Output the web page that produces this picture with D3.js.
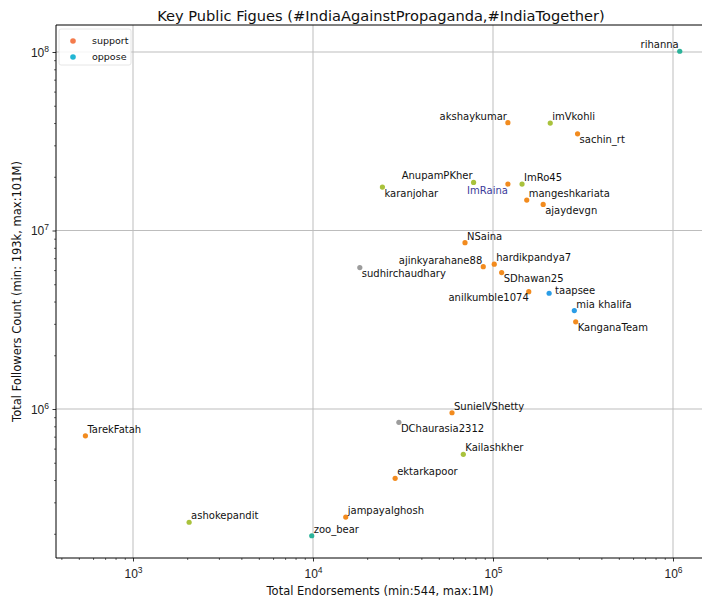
<!DOCTYPE html>
<html>
<head>
<meta charset="utf-8">
<script src="https://cdn.jsdelivr.net/npm/d3@7"></script>
<style>
  html, body { margin: 0; padding: 0; background: #fff; }
  svg { display: block; font-family: "DejaVu Sans", sans-serif; }
</style>
</head>
<body>
<svg id="chart" width="702" height="600"></svg>
<script>
// ---- data ----
const names = ["rihanna","akshaykumar","imVkohli","sachin_rt","AnupamPKher","karanjohar","ImRaina","ImRo45",
  "mangeshkariata","ajaydevgn","NSaina","ajinkyarahane88","hardikpandya7","SDhawan25","sudhirchaudhary",
  "anilkumble1074","taapsee","mia khalifa","KanganaTeam","SunielVShetty","DChaurasia2312","TarekFatah",
  "Kailashkher","ektarkapoor","jampayalghosh","ashokepandit","zoo_bear"];
const endorsements = [1090000,121000,208000,295000,78000,24300,121000,145000,
  154000,190000,69900,88300,101600,111700,18200,
  158000,205000,283000,288000,59200,30000,544,
  68400,28600,15200,2050,9840];
const followers = [101000000,40200000,40000000,34800000,18600000,17500000,18200000,18200000,
  14800000,14000000,8550000,6270000,6480000,5810000,6200000,
  4540000,4450000,3560000,3080000,953000,842000,708000,
  557000,409000,248000,232000,195000];
const pointKind = ["teal","orange","green","orange","green","green","orange","green",
  "orange","orange","orange","orange","orange","orange","gray",
  "orange","blue","blue","orange","orange","gray","orange",
  "green","orange","orange","green","teal"];
const labelSide = ["ul","ul","ur","lr","ul","lr","ll","ur",
  "ur","lr","ur","ul","ur","lr","lr",
  "ll","r","ur","lr","ur","lr","ur",
  "ur","ur","ur","ur","ur"];
const legendLabels = ["support","oppose"];
const xTickExps = [3,4,5,6];
const yTickExps = [6,7,8];
const titleText = "Key Public Figues (#IndiaAgainstPropaganda,#IndiaTogether)";
const xLabelText = "Total Endorsements (min:544, max:1M)";
const yLabelText = "Total Followers Count (min: 193k, max:101M)";

// ---- styles ----
const kindColor = {orange:"#f28b1e", green:"#a9c23c", blue:"#2b9de6", gray:"#9c9c9c", teal:"#2bb39a"};
const legendColor = {support:"#f47b4c", oppose:"#22b6d4"};

const svg = d3.select("#chart");
const L = 56, R = 703, T = 25, B = 558;

const x = d3.scaleLog().domain([Math.pow(10, 2.5722), Math.pow(10, 6 + 30/180)]).range([L, R]);
const y = d3.scaleLog().domain([Math.pow(10, 5.1653), Math.pow(10, 8.1513)]).range([B, T]);

// grid
const g = svg.append("g");
g.selectAll("line.gx").data(xTickExps).join("line")
  .attr("x1", d => x(Math.pow(10, d))).attr("x2", d => x(Math.pow(10, d)))
  .attr("y1", T).attr("y2", B).attr("stroke", "#bdbdbd").attr("stroke-width", 1);
g.selectAll("line.gy").data(yTickExps).join("line")
  .attr("y1", d => y(Math.pow(10, d))).attr("y2", d => y(Math.pow(10, d)))
  .attr("x1", L).attr("x2", R).attr("stroke", "#bdbdbd").attr("stroke-width", 1);

// minor ticks
const xMinor = [], yMinor = [];
for (let e = 2; e <= 6; e++) for (let m = 2; m <= 9; m++) {
  const v = m * Math.pow(10, e);
  if (v >= x.domain()[0] && v <= x.domain()[1]) xMinor.push(v);
}
for (let e = 5; e <= 8; e++) for (let m = 2; m <= 9; m++) {
  const v = m * Math.pow(10, e);
  if (v >= y.domain()[0] && v <= y.domain()[1]) yMinor.push(v);
}

// axes
const xAxis = d3.axisBottom(x).tickValues(xTickExps.map(e => Math.pow(10, e))).tickFormat("").tickSize(3.5).tickSizeOuter(0);
const xAx = svg.append("g").attr("transform", `translate(0,${B})`).call(xAxis);
xAx.select(".domain").remove();
xAx.selectAll(".tick line").attr("stroke", "#000").attr("stroke-width", 0.8);
const xMin = svg.append("g").attr("transform", `translate(0,${B})`).call(d3.axisBottom(x).tickValues(xMinor).tickFormat("").tickSize(2).tickSizeOuter(0));
xMin.select(".domain").remove();
xMin.selectAll(".tick line").attr("stroke", "#000").attr("stroke-width", 0.6);
xAx.selectAll(".tick").append("text")
  .attr("y", 20).attr("text-anchor", "middle").attr("fill", "#222").attr("font-size", 12)
  .each(function(d) {
    const t = d3.select(this);
    t.append("tspan").text("10");
    t.append("tspan").attr("dy", -5).attr("font-size", 8.5).text(Math.round(Math.log10(d)));
  });

const yAxis = d3.axisLeft(y).tickValues(yTickExps.map(e => Math.pow(10, e))).tickFormat("").tickSize(3.5).tickSizeOuter(0);
const yAx = svg.append("g").attr("transform", `translate(${L},0)`).call(yAxis);
yAx.select(".domain").remove();
yAx.selectAll(".tick line").attr("stroke", "#000").attr("stroke-width", 0.8);
const yMin = svg.append("g").attr("transform", `translate(${L},0)`).call(d3.axisLeft(y).tickValues(yMinor).tickFormat("").tickSize(2).tickSizeOuter(0));
yMin.select(".domain").remove();
yMin.selectAll(".tick line").attr("stroke", "#000").attr("stroke-width", 0.6);
yAx.selectAll(".tick").append("text")
  .attr("x", -7).attr("y", 4).attr("text-anchor", "end").attr("fill", "#222").attr("font-size", 12)
  .each(function(d) {
    const t = d3.select(this);
    t.append("tspan").text("10");
    t.append("tspan").attr("dy", -5).attr("font-size", 8.5).text(Math.round(Math.log10(d)));
  });

// spines (left, bottom, top)
svg.append("line").attr("x1", L).attr("x2", L).attr("y1", T).attr("y2", B).attr("stroke", "#000").attr("stroke-width", 1);
svg.append("line").attr("x1", L).attr("x2", R).attr("y1", B).attr("y2", B).attr("stroke", "#000").attr("stroke-width", 1);
svg.append("line").attr("x1", L).attr("x2", R).attr("y1", T).attr("y2", T).attr("stroke", "#000").attr("stroke-width", 1);

// points
const data = names.map((n, i) => ({name: n, ex: endorsements[i], fy: followers[i], kind: pointKind[i], side: labelSide[i]}));
svg.append("g").selectAll("circle").data(data).join("circle")
  .attr("cx", d => x(d.ex)).attr("cy", d => y(d.fy)).attr("r", 2.6)
  .attr("fill", d => kindColor[d.kind]);

// labels
const off = {
  ur: {dx: 2, dy: -3, a: "start"},
  lr: {dx: 2, dy: 9.5, a: "start"},
  ul: {dx: -1, dy: -3, a: "end"},
  ll: {dx: 0, dy: 9.5, a: "end"},
  r:  {dx: 6, dy: 1, a: "start"}
};
svg.append("g").selectAll("text").data(data).join("text")
  .attr("x", d => x(d.ex) + off[d.side].dx)
  .attr("y", d => y(d.fy) + off[d.side].dy)
  .attr("text-anchor", d => off[d.side].a)
  .attr("font-size", 10).attr("fill", d => d.name === "ImRaina" ? "#3b3b9a" : "#111")
  .text(d => d.name);

// legend
const lg = svg.append("g");
lg.append("rect").attr("x", 59).attr("y", 29).attr("width", 72).attr("height", 36).attr("rx", 2)
  .attr("fill", "#fff").attr("fill-opacity", 0.85).attr("stroke", "#e0e0e0").attr("stroke-width", 0.8);
legendLabels.forEach((lab, i) => {
  lg.append("circle").attr("cx", 73).attr("cy", 41 + i * 16).attr("r", 2.8).attr("fill", legendColor[lab]);
  lg.append("text").attr("x", 92).attr("y", 44 + i * 16).attr("font-size", 9.5).attr("fill", "#111").text(lab);
});

// titles
svg.append("text").attr("x", 381).attr("y", 21).attr("text-anchor", "middle").attr("font-size", 14.6).attr("fill", "#111").text(titleText);
svg.append("text").attr("x", 380).attr("y", 595).attr("text-anchor", "middle").attr("font-size", 11.5).attr("fill", "#111").text(xLabelText);
svg.append("text").attr("transform", `translate(21,${(T + B) / 2}) rotate(-90)`).attr("text-anchor", "middle").attr("font-size", 11.5).attr("fill", "#111").text(yLabelText);
</script>
</body>
</html>
